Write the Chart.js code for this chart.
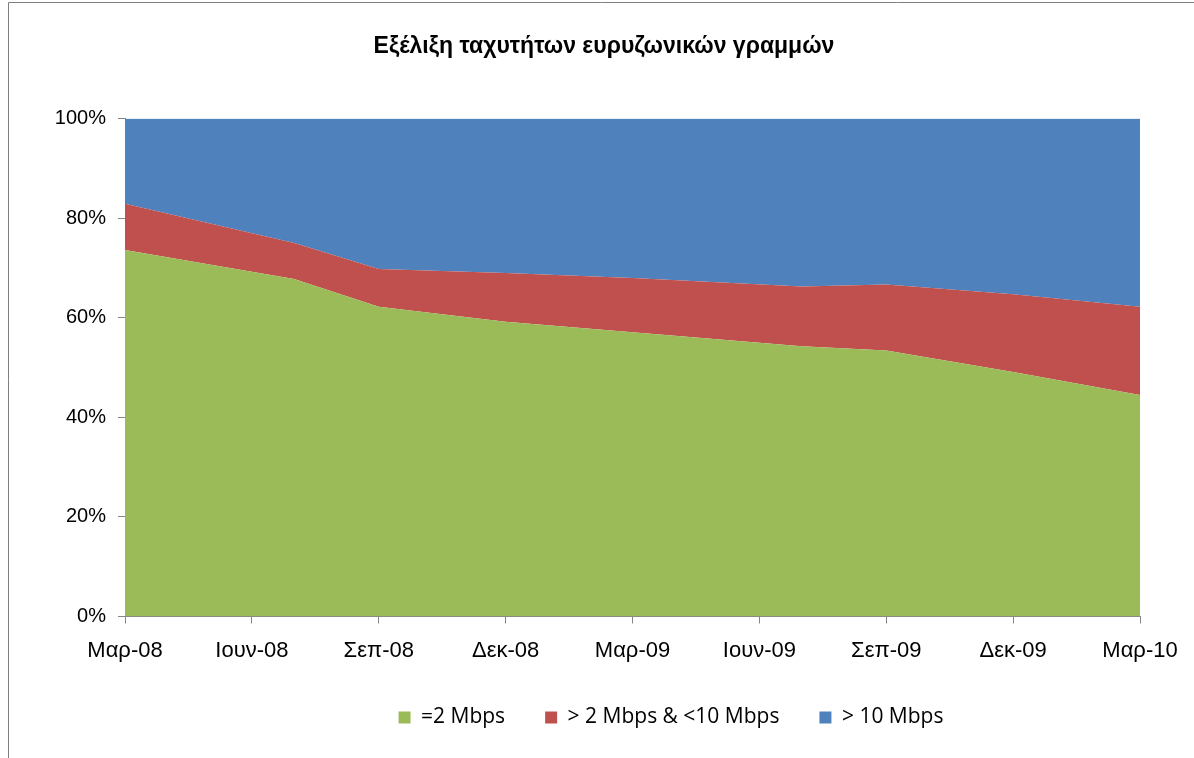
<!DOCTYPE html>
<html>
<head>
<meta charset="utf-8">
<script src="https://cdn.jsdelivr.net/npm/chart.js@4/dist/chart.umd.min.js"></script>
<style>
  html, body { margin: 0; padding: 0; background: #ffffff; }
  #wrap { position: relative; width: 1194px; height: 758px; }
  canvas { display: block; }
</style>
</head>
<body>
<div id="wrap"><canvas id="c" width="1194" height="758"></canvas></div>
<script>
// ---- data ----
const chartTitle = 'Εξέλιξη ταχυτήτων ευρυζωνικών γραμμών';
// tick labels, one every 3 months starting Mar-08
const tickLabels = ['Μαρ-08', 'Ιουν-08', 'Σεπ-08', 'Δεκ-08', 'Μαρ-09', 'Ιουν-09', 'Σεπ-09', 'Δεκ-09', 'Μαρ-10'];
// observation dates, as months after Mar-08
const pointMonths = [0, 4, 6, 9, 12, 16, 18, 21, 24];
const seriesNames = ['=2 Mbps', '> 2 Mbps & <10 Mbps', '> 10 Mbps'];
const upTo2 = [73.6, 67.8, 62.2, 59.2, 57.1, 54.3, 53.4, 49.1, 44.5];
const from2to10 = [9.3, 7.2, 7.6, 9.8, 10.9, 12.0, 13.3, 15.6, 17.7];
const over10 = [17.1, 25.0, 30.2, 31.0, 32.0, 33.7, 33.3, 35.3, 37.8];
const yTicks = [0, 20, 40, 60, 80, 100];

const colors = ['#9BBB59', '#C0504D', '#4F81BD'];
const axisGray = '#868686';

function pts(vals) { return vals.map((v, i) => ({ x: pointMonths[i], y: v })); }

const frame = {
  id: 'frame',
  beforeDraw(chart) {
    const ctx = chart.ctx;
    ctx.save();
    ctx.fillStyle = '#ffffff';
    ctx.fillRect(0, 0, chart.width, chart.height);
    ctx.strokeStyle = '#7f7f7f';
    ctx.lineWidth = 1;
    ctx.beginPath();
    ctx.moveTo(8.5, chart.height);
    ctx.lineTo(8.5, 2.5);
    ctx.lineTo(chart.width, 2.5);
    ctx.stroke();
    ctx.restore();
  },
  afterLayout(chart) {
    // title and legend in the reference sit right of the box centre
    const tb = chart.titleBlock;
    if (tb) { tb.left += 29; tb.right += 29; }
    const lg = chart.legend;
    if (lg) { lg.left += 96; lg.right += 96; }
  }
};

new Chart(document.getElementById('c'), {
  type: 'line',
  data: {
    datasets: [
      { label: seriesNames[0], data: pts(upTo2), backgroundColor: colors[0], borderColor: colors[0], fill: 'origin' },
      { label: seriesNames[1], data: pts(from2to10), backgroundColor: colors[1], borderColor: colors[1], fill: '-1' },
      { label: seriesNames[2], data: pts(over10), backgroundColor: colors[2], borderColor: colors[2], fill: '-1' }
    ]
  },
  options: {
    responsive: false,
    animation: false,
    devicePixelRatio: 1,
    elements: { point: { radius: 0, hoverRadius: 0 }, line: { borderWidth: 0, tension: 0 } },
    layout: { padding: { top: 0, left: 10, right: 54, bottom: 20 } },
    plugins: {
      tooltip: { enabled: false },
      title: {
        display: true,
        text: chartTitle,
        color: '#000000',
        font: { family: '"Liberation Sans", Arial, sans-serif', size: 23, weight: 'bold' },
        padding: { top: 33, bottom: 58 }
      },
      legend: {
        position: 'bottom',
        labels: {
          boxWidth: 12, boxHeight: 12, padding: 40,
          color: '#000000',
          font: { family: '"Open Sans", sans-serif', size: 21 }
        }
      },
      filler: { propagate: false }
    },
    scales: {
      x: {
        type: 'linear',
        min: 0, max: 24,
        offset: false,
        afterBuildTicks(s) { s.ticks = tickLabels.map((_, i) => ({ value: i * 3 })); },
        afterFit(s) { s.height = 50.5; },
        grid: { drawOnChartArea: false, drawTicks: true, tickLength: 7, color: axisGray },
        border: { color: axisGray, width: 1 },
        ticks: {
          color: '#000000', padding: 14, maxRotation: 0, autoSkip: false,
          font: { family: '"Liberation Sans", Arial, sans-serif', size: 22 },
          callback: (v) => tickLabels[Math.round(v / 3)]
        }
      },
      y: {
        stacked: true,
        min: 0, max: 100,
        afterBuildTicks(s) { s.ticks = yTicks.map(v => ({ value: v })); },
        afterFit(s) { s.width = 115; },
        grid: { drawOnChartArea: false, drawTicks: true, tickLength: 7, color: axisGray },
        border: { color: axisGray, width: 1 },
        ticks: {
          color: '#000000', padding: 12,
          font: { family: '"Liberation Sans", Arial, sans-serif', size: 20 },
          callback: (v) => v + '%'
        }
      }
    }
  },
  plugins: [frame]
});
</script>
</body>
</html>
